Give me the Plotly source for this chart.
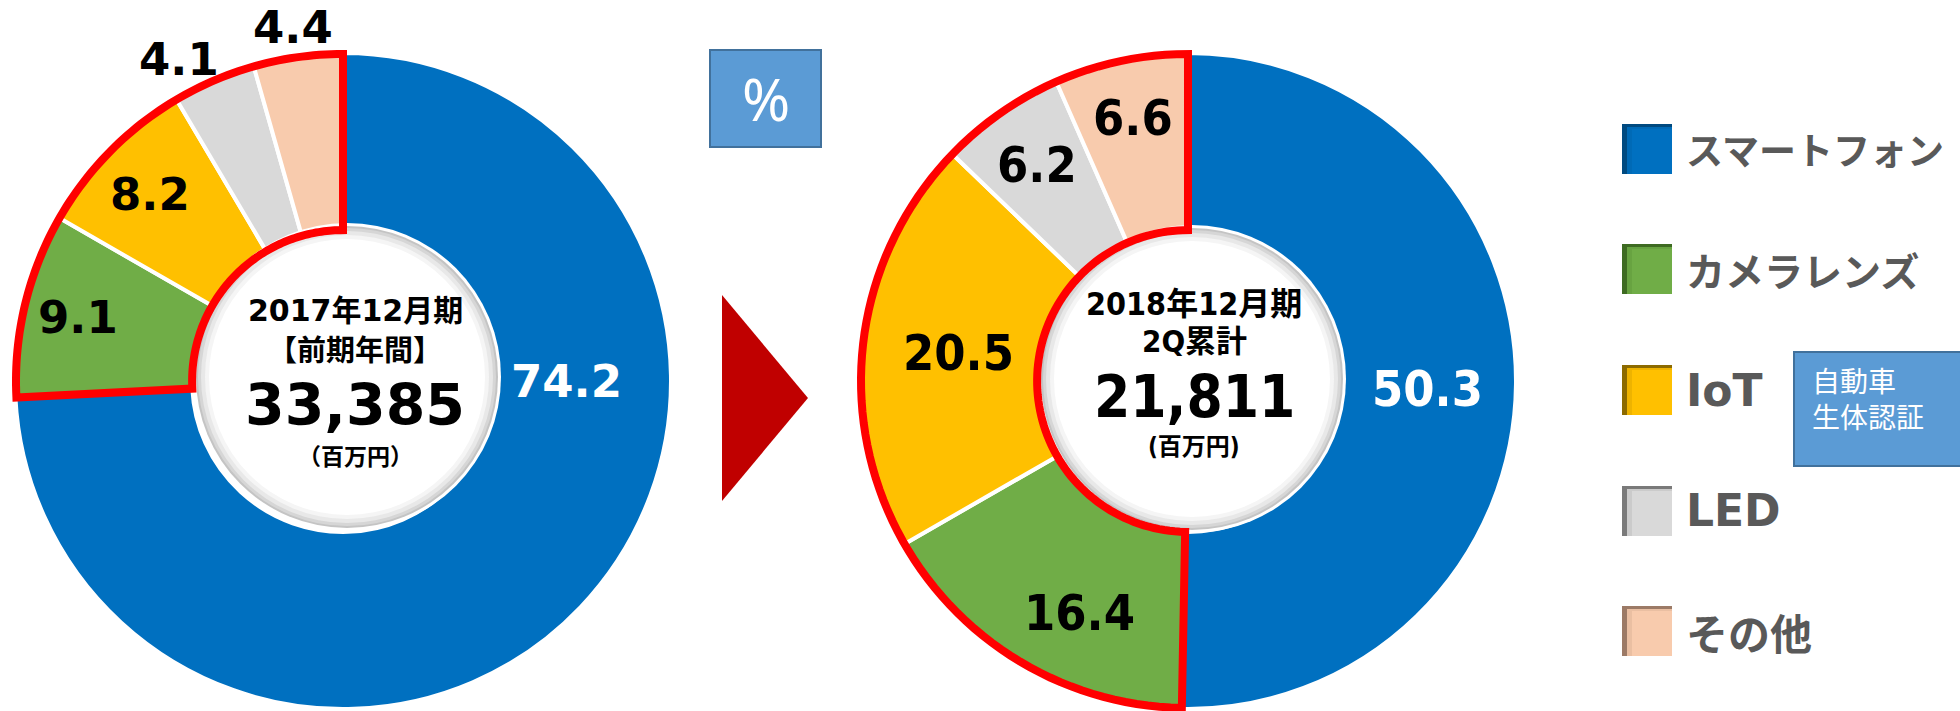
import math
import plotly.graph_objects as go

# ---------------- data ----------------
categories = ["スマートフォン", "カメラレンズ", "IoT", "LED", "その他"]
values_2017 = [74.2, 9.1, 8.2, 4.1, 4.4]
values_2018 = [50.3, 16.4, 20.5, 6.2, 6.6]
title_2017 = ["2017年12月期", "【前期年間】"]
title_2018 = ["2018年12月期", "2Q累計"]
total_2017 = "33,385"
total_2018 = "21,811"
unit_label_2017 = "（百万円）"
unit_label_2018 = "(百万円)"
percent_label = "%"
iot_note = ["自動車", "生体認証"]

# ---------------- styles ----------------
W, H = 1960, 711
colors = ["#0070C0", "#70AD47", "#FFC000", "#D9D9D9", "#F8CBAD"]
dark_colors = ["#004A80", "#3E6B22", "#8C6A00", "#7A7A7A", "#9C7A66"]
R = 328
HOLE = 0.46
CX = [343, 1188]
CY = 381
circle_c = [(347, 377), (1192, 379)]
circle_r = 152
label_r = [[223, 272, 268, 361, 357], [240, 256, 231, 263, 269]]
label_ang = [[90, 283.4, 314, 333, 352], [92, 205, None, None, None]]
label_col = ["white", "black", "black", "black", "black"]
FONT_JP = "Noto Sans CJK JP"
FONT_MIX = "DejaVu Sans, Noto Sans CJK JP"
FONT_COND = "DejaVu Sans Condensed, Noto Sans CJK JP"
num_font = [FONT_MIX, FONT_COND]
num_size = [45, 50]


def px(x):
    return x / W


def py(y):
    return 1 - y / H


def polar(cx, cy, r, a):
    t = math.radians(a)
    return cx + r * math.sin(t), cy - r * math.cos(t)


fig = go.Figure()
shapes = []
annotations = []

for i, vals in enumerate([values_2017, values_2018]):
    cx = CX[i]
    fig.add_trace(go.Pie(
        labels=categories, values=vals, sort=False, direction="clockwise",
        rotation=0, hole=HOLE, textinfo="none", showlegend=False,
        marker=dict(colors=colors, line=dict(color="white", width=4)),
        domain=dict(x=[px(cx - R), px(cx + R)],
                    y=[max(0, py(CY + R)), min(1, py(CY - R))]),
        hoverinfo="label+value",
    ))
    total = sum(vals)
    cum = 0
    mids = []
    for v in vals:
        mids.append((cum + v / 2) / total * 360)
        cum += v
    # labels
    for k, v in enumerate(vals):
        a = label_ang[i][k] if label_ang[i][k] is not None else mids[k]
        x, y = polar(cx, CY, label_r[i][k], a)
        annotations.append(dict(
            x=px(x), y=py(y), xref="paper", yref="paper", text=f"{v:.1f}",
            showarrow=False, xanchor="center", yanchor="middle",
            font=dict(family=num_font[i], size=num_size[i],
                      color=label_col[k], weight="bold")))
    # white centre disk with soft inner shadow
    ccx, ccy = circle_c[i]
    for rr, col in [(circle_r + 2, "#FFFFFF"), (circle_r - 1, "#C4C4C4"),
                    (circle_r - 3, "#D6D6D6"), (circle_r - 6, "#E8E8E8"),
                    (circle_r - 10, "#F5F5F5"), (circle_r - 14, "#FFFFFF")]:
        shapes.append(dict(type="circle", xref="paper", yref="paper",
                           x0=px(ccx - rr), x1=px(ccx + rr),
                           y0=py(ccy + rr), y1=py(ccy - rr),
                           fillcolor=col, line=dict(width=0), layer="above"))
    # red outline around non-smartphone segments
    a0 = vals[0] / total * 360
    n = 90
    pts = []
    rin = R * HOLE
    for j in range(n + 1):
        a = a0 + (360 - a0) * j / n
        pts.append(polar(cx, CY, R - 1, a))
    for j in range(n + 1):
        a = 360 - (360 - a0) * j / n
        pts.append(polar(cx, CY, rin, a))
    path = "M " + " L ".join(f"{px(x):.5f},{py(y):.5f}" for x, y in pts) + " Z"
    shapes.append(dict(type="path", xref="paper", yref="paper", path=path,
                       line=dict(color="#FF0000", width=8), layer="above"))

# centre texts
center_text = [
    [(title_2017[0], 310, FONT_MIX, 30), (title_2017[1], 348, FONT_JP, 29),
     (total_2017, 405, FONT_MIX, 57), (unit_label_2017, 455, FONT_JP, 23)],
    [(title_2018[0], 304, FONT_COND, 32), (title_2018[1], 341, FONT_COND, 31),
     (total_2018, 397, FONT_COND, 58), (unit_label_2018, 447, FONT_COND, 24)],
]
center_x = [355, 1194]
for i in range(2):
    for txt, yy, fam, sz in center_text[i]:
        annotations.append(dict(
            x=px(center_x[i]), y=py(yy), xref="paper", yref="paper", text=txt,
            showarrow=False, xanchor="center", yanchor="middle",
            font=dict(family=fam, size=sz, color="black", weight="bold")))

# % box
shapes.append(dict(type="rect", xref="paper", yref="paper",
                   x0=px(710), x1=px(821), y0=py(147), y1=py(50),
                   fillcolor="#5B9BD5", line=dict(color="#41719C", width=2)))
annotations.append(dict(x=px(766), y=py(99), xref="paper", yref="paper",
                        text=percent_label, showarrow=False,
                        xanchor="center", yanchor="middle",
                        font=dict(family="Noto Sans", size=58, color="white")))

# red arrow triangle
tri = [(722, 295), (808, 398), (722, 501)]
shapes.append(dict(type="path", xref="paper", yref="paper",
                   path="M " + " L ".join(f"{px(x):.5f},{py(y):.5f}" for x, y in tri) + " Z",
                   fillcolor="#C00000", line=dict(width=0)))

# legend
leg_y = [149, 269, 390, 511, 631]
leg_size = [37, 39, 44, 44, 42]
leg_font = [FONT_JP, FONT_JP, FONT_MIX, FONT_MIX, FONT_JP]
for k, cat in enumerate(categories):
    y = leg_y[k]
    shapes.append(dict(type="rect", xref="paper", yref="paper",
                       x0=px(1622), x1=px(1672), y0=py(y + 25), y1=py(y - 25),
                       fillcolor=dark_colors[k], line=dict(width=0)))
    shapes.append(dict(type="rect", xref="paper", yref="paper",
                       x0=px(1627), x1=px(1672), y0=py(y + 25), y1=py(y - 22),
                       fillcolor=colors[k], line=dict(width=0), opacity=0.85))
    shapes.append(dict(type="rect", xref="paper", yref="paper",
                       x0=px(1632), x1=px(1672), y0=py(y + 25), y1=py(y - 20),
                       fillcolor=colors[k], line=dict(width=0)))
    annotations.append(dict(x=px(1684), y=py(y), xref="paper", yref="paper",
                            text=cat, showarrow=False, xanchor="left",
                            yanchor="middle",
                            font=dict(family=leg_font[k], size=leg_size[k],
                                      color="#595959", weight="bold")))

# IoT note box
shapes.append(dict(type="rect", xref="paper", yref="paper",
                   x0=px(1794), x1=px(1962), y0=py(466), y1=py(352),
                   fillcolor="#5B9BD5", line=dict(color="#41719C", width=2)))
annotations.append(dict(x=px(1810), y=py(398), xref="paper", yref="paper",
                        text="<br>".join(iot_note), showarrow=False,
                        xanchor="left", yanchor="middle", align="left",
                        font=dict(family=FONT_JP, size=28, color="white")))

fig.update_layout(
    width=W, height=H, margin=dict(l=0, r=0, t=0, b=0),
    paper_bgcolor="white", plot_bgcolor="white",
    shapes=shapes, annotations=annotations,
)
fig.write_html(
    "out.html",
    config={"displayModeBar": False},
    post_script="document.body.style.margin='0';document.body.style.padding='0';"
                "document.body.style.overflow='hidden';",
)
